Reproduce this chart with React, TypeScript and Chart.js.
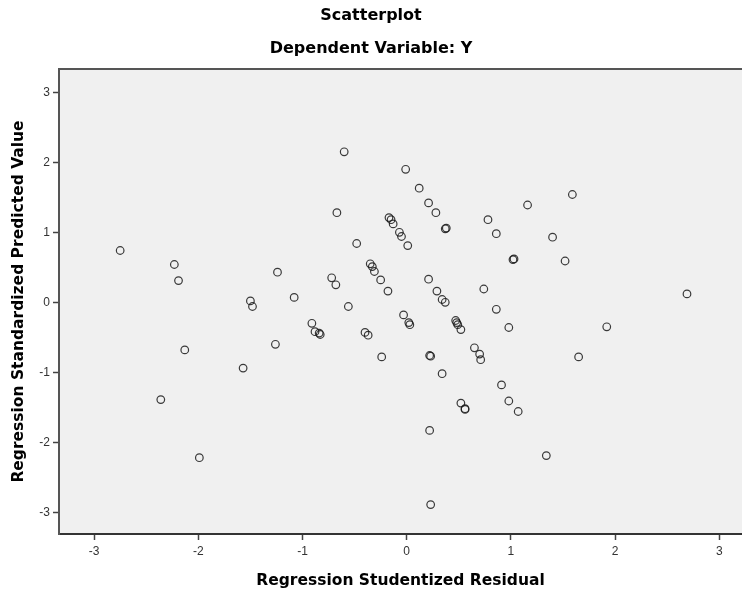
import React, { useEffect, useRef } from "react";
import { Chart, registerables } from "chart.js";

Chart.register(...registerables);

const titleText = "Scatterplot";
const subtitleText = "Dependent Variable: Y";
const xAxisTitle = "Regression Studentized Residual";
const yAxisTitle = "Regression Standardized Predicted Value";
const tickValues = [-3, -2, -1, 0, 1, 2, 3];

const residuals = [
  -2.75, -2.23, -2.19, -2.13, -2.36, -1.99, -1.57, -1.5, -1.48, -1.24, -1.26, -1.08,
  -0.91, -0.88, -0.84, -0.83, -0.72, -0.68, -0.67, -0.6, -0.56, -0.48, -0.4, -0.37,
  -0.35, -0.33, -0.31, -0.25, -0.24, -0.18, -0.17, -0.15, -0.13, -0.07, -0.05, 0.01,
  -0.03, 0.02, 0.03, -0.01, 0.12, 0.21, 0.28, 0.37, 0.38, 0.21, 0.29, 0.34, 0.37,
  0.47, 0.48, 0.49, 0.52, 0.22, 0.23, 0.34, 0.52, 0.56, 0.56, 0.22, 0.23, 0.65, 0.7,
  0.71, 0.74, 0.78, 0.86, 0.86, 0.91, 0.98, 0.98, 1.02, 1.03, 1.07, 1.16, 1.34, 1.4,
  1.52, 1.59, 1.65, 1.92, 2.69,
];

const predicted = [
  0.74, 0.54, 0.31, -0.68, -1.39, -2.22, -0.94, 0.02, -0.06, 0.43, -0.6, 0.07,
  -0.3, -0.42, -0.44, -0.46, 0.35, 0.25, 1.28, 2.15, -0.06, 0.84, -0.43, -0.47,
  0.55, 0.51, 0.44, 0.32, -0.78, 0.16, 1.21, 1.18, 1.12, 1.0, 0.94, 0.81,
  -0.18, -0.29, -0.32, 1.9, 1.63, 1.42, 1.28, 1.05, 1.06, 0.33, 0.16, 0.04, 0.0,
  -0.26, -0.29, -0.32, -0.39, -0.76, -0.77, -1.02, -1.44, -1.52, -1.53, -1.83, -2.89, -0.65,
  -0.74, -0.82, 0.19, 1.18, 0.98, -0.1, -1.18, -1.41, -0.36, 0.61, 0.62, -1.56, 1.39,
  -2.19, 0.93, 0.59, 1.54, -0.78, -0.35, 0.12,
];

const plotBackground = {
  id: "plotBackground",
  beforeDraw(chart: any) {
    const { ctx, chartArea } = chart;
    ctx.save();
    ctx.fillStyle = "#f0f0f0";
    ctx.fillRect(chartArea.left, chartArea.top, chartArea.right - chartArea.left, chartArea.bottom - chartArea.top);
    ctx.restore();
  },
  afterDraw(chart: any) {
    const { ctx, chartArea } = chart;
    ctx.save();
    ctx.strokeStyle = "#555555";
    ctx.lineWidth = 2;
    ctx.beginPath();
    ctx.moveTo(chartArea.left - 1, chartArea.top);
    ctx.lineTo(chartArea.right, chartArea.top);
    ctx.stroke();
    ctx.restore();
  },
};

export default function App() {
  const canvasRef = useRef<HTMLCanvasElement | null>(null);

  useEffect(() => {
    const canvas = canvasRef.current;
    if (!canvas) return;
    const points = residuals.map((x, i) => ({ x, y: predicted[i] }));
    const chart = new Chart(canvas, {
      type: "scatter",
      data: {
        datasets: [
          {
            data: points,
            pointRadius: 3.8,
            pointHoverRadius: 3.8,
            pointBorderWidth: 1.2,
            pointBorderColor: "rgba(25,25,25,0.85)",
            pointBackgroundColor: "rgba(0,0,0,0)",
          },
        ],
      },
      options: {
        responsive: false,
        animation: false,
        devicePixelRatio: 1,
        layout: { padding: 0, autoPadding: false },
        plugins: {
          legend: { display: false },
          tooltip: { enabled: false },
          title: {
            display: true,
            text: titleText,
            color: "#000",
            font: { family: "'DejaVu Sans', sans-serif", size: 16, weight: "bold" },
            padding: { top: 6.6, bottom: 0 },
          },
          subtitle: {
            display: true,
            text: subtitleText,
            color: "#000",
            font: { family: "'DejaVu Sans', sans-serif", size: 16, weight: "bold" },
            padding: { top: 13.7, bottom: 10.3 },
          },
        },
        scales: {
          x: {
            type: "linear",
            min: -3.337,
            max: 3.218,
            afterFit(scale: any) {
              scale.height = 58;
              scale.paddingLeft = 0;
              scale.paddingRight = 0;
            },
            afterBuildTicks(scale: any) {
              scale.ticks = tickValues.map((v) => ({ value: v }));
            },
            grid: {
              display: true,
              drawOnChartArea: false,
              drawTicks: true,
              tickLength: 6,
              tickWidth: 1.5,
              tickColor: "#444",
            },
            border: { display: true, color: "#333", width: 2 },
            ticks: {
              color: "#333",
              padding: 4,
              font: { family: "'Liberation Sans', Arial, sans-serif", size: 12 },
              maxRotation: 0,
              callback: (v: any) => String(v),
            },
            title: {
              display: true,
              text: xAxisTitle,
              color: "#000",
              font: { family: "'DejaVu Sans', sans-serif", size: 15.5, weight: "bold" },
              padding: { top: 0, bottom: 1.7 },
            },
          },
          y: {
            type: "linear",
            min: -3.31,
            max: 3.333,
            afterFit(scale: any) {
              scale.width = 59;
              scale.paddingTop = 0;
              scale.paddingBottom = 0;
            },
            afterBuildTicks(scale: any) {
              scale.ticks = tickValues.map((v) => ({ value: v }));
            },
            grid: {
              display: true,
              drawOnChartArea: false,
              drawTicks: true,
              tickLength: 6,
              tickWidth: 1.5,
              tickColor: "#444",
            },
            border: { display: true, color: "#555", width: 2 },
            ticks: {
              color: "#333",
              padding: 3,
              font: { family: "'Liberation Sans', Arial, sans-serif", size: 12 },
              callback: (v: any) => String(v),
            },
            title: {
              display: true,
              text: yAxisTitle,
              color: "#000",
              font: { family: "'DejaVu Sans', sans-serif", size: 15.5, weight: "bold" },
              padding: { top: 9.7, bottom: 0 },
            },
          },
        },
      },
      plugins: [plotBackground],
    });
    return () => chart.destroy();
  }, []);

  return (
    <div style={{ position: "absolute", left: 0, top: 0, width: 742, height: 592, background: "#fff" }}>
      <canvas ref={canvasRef} width={742} height={592} style={{ display: "block" }} />
    </div>
  );
}
